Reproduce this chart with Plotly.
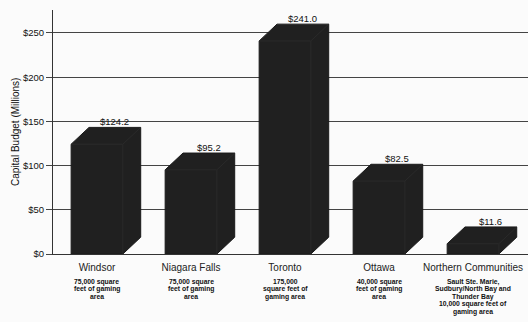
import plotly.graph_objects as go

categories = ["Windsor", "Niagara Falls", "Toronto", "Ottawa", "Northern Communities"]
budgets = [124.2, 95.2, 241.0, 82.5, 11.6]
value_labels = ["$124.2", "$95.2", "$241.0", "$82.5", "$11.6"]
sub_labels = [
    ["75,000 square", "feet of gaming", "area"],
    ["75,000 square", "feet of gaming", "area"],
    ["175,000", "square feet of", "gaming area"],
    ["40,000 square", "feet of gaming", "area"],
    ["Sault Ste. Marie,", "Sudbury/North Bay and", "Thunder Bay",
     "10,000 square feet of", "gaming area"],
]
y_tick_vals = [0, 50, 100, 150, 200, 250]
y_tick_text = ["$0", "$50", "$100", "$150", "$200", "$250"]

FONT = "Arial, Liberation Sans, sans-serif"
BAR_W = 0.55     # front face width (category units)
DEPTH_X = 0.19   # 3D depth offset (category units)
DEPTH_Y = 19.0   # 3D depth offset (value units)

fig = go.Figure()

for i, v in enumerate(budgets):
    x0, x1 = i - BAR_W / 2, i + BAR_W / 2
    xs = [x0, x0, x0 + DEPTH_X, x1 + DEPTH_X, x1 + DEPTH_X, x1, x0]
    ys = [0, v, v + DEPTH_Y, v + DEPTH_Y, DEPTH_Y, 0, 0]
    fig.add_trace(go.Scatter(
        x=xs, y=ys, mode="lines", fill="toself",
        fillcolor="#202020", line=dict(color="#1a1a1a", width=1),
        showlegend=False, hoverinfo="skip",
    ))
    fig.add_trace(go.Scatter(
        x=[x0, x1, x1 + DEPTH_X, None, x1, x1],
        y=[v, v, v + DEPTH_Y, None, v, 0],
        mode="lines", line=dict(color="#2a2a2a", width=1),
        showlegend=False, hoverinfo="skip",
    ))
    fig.add_annotation(
        x=i + DEPTH_X, y=v + DEPTH_Y, text=value_labels[i],
        showarrow=False, yanchor="bottom", xanchor="center", yshift=-2,
        font=dict(family=FONT, size=9.5, color="#111"),
    )
    for j, line in enumerate(sub_labels[i]):
        fig.add_annotation(
            x=i, y=-0.09, xref="x", yref="paper", text=line,
            showarrow=False, yanchor="top", xanchor="center",
            yshift=-7.4 * j,
            font=dict(family=FONT, size=6.8, color="#111", weight="bold"),
        )

fig.add_annotation(
    x=-0.08, y=0.5, xref="paper", yref="paper",
    text="Capital Budget (Millions)", textangle=-90,
    showarrow=False, xanchor="center", yanchor="middle",
    font=dict(family=FONT, size=10, color="#111"),
)

fig.update_layout(
    width=528, height=322,
    margin=dict(l=53, r=0, t=10, b=68),
    paper_bgcolor="#fbfbfb", plot_bgcolor="#fbfbfb",
    showlegend=False,
    xaxis=dict(
        range=[-0.468, 4.585], tickvals=list(range(len(categories))),
        ticktext=categories, showgrid=False, zeroline=False,
        showline=True, linecolor="#333", linewidth=1, ticks="",
        ticklabelstandoff=4,
        tickfont=dict(family=FONT, size=10, color="#222"),
        fixedrange=True,
    ),
    yaxis=dict(
        range=[0, 276], tickvals=y_tick_vals, ticktext=y_tick_text,
        showgrid=True, gridcolor="#444", gridwidth=1, zeroline=False,
        showline=True, linecolor="#333", linewidth=1,
        ticks="outside", ticklen=6, tickcolor="#444",
        tickfont=dict(family=FONT, size=9.5, color="#111"),
        mirror=True, fixedrange=True,
    ),
)

fig.write_html("out.html")
